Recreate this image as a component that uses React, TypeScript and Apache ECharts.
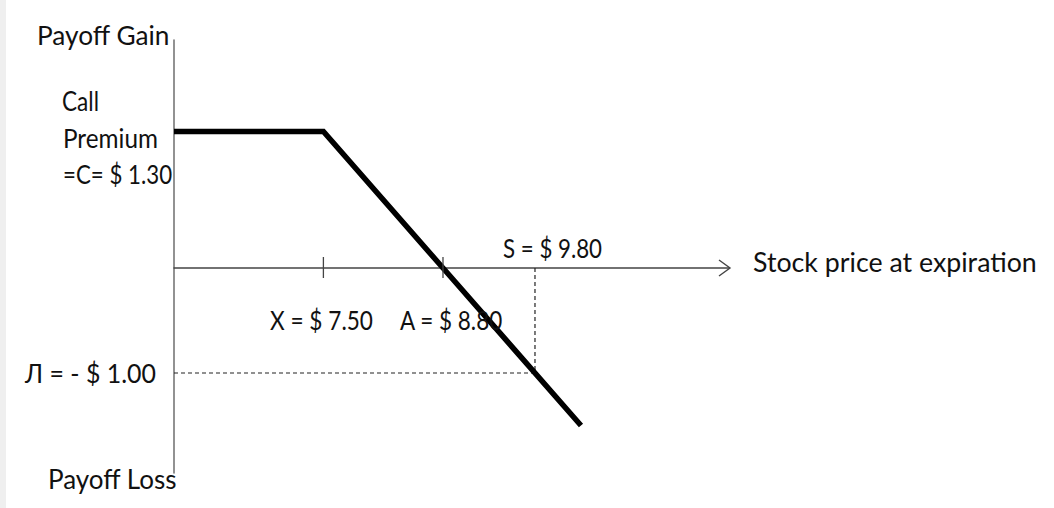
import { useEffect, useRef } from "react";
import * as echarts from "echarts";

// Short call payoff profile: price at expiration vs. payoff
const stockPrices = [5.876, 7.5, 8.8, 10.3];
const payoffs = [1.3, 1.3, 0, -1.5];

const strikePrice = 7.5;
const breakEvenPrice = 8.8;
const spotPrice = 9.8;
const callPremium = 1.3;
const spotPayoff = -1.0;

const xRange = [5.876, 11.909];
const yRange = [-1.952, 2.171];

const FONT = "Lato, 'Open Sans', sans-serif";
const FONT_SIZE = 27;

const money = (v: number) => v.toFixed(2);

// Horizontal squeeze so each label spans the given width
const measureCtx = document.createElement("canvas").getContext("2d");
const squeezeTo = (t: string, width: number) => {
  if (!measureCtx) return 1;
  measureCtx.font = `${FONT_SIZE}px ${FONT}`;
  const w = measureCtx.measureText(t).width;
  return w > 0 ? Math.min(1.05, width / w) : 1;
};

export default function App() {
  const ref = useRef<HTMLDivElement>(null);

  useEffect(() => {
    if (!ref.current) return;
    const chart = echarts.init(ref.current, undefined, { renderer: "svg" });

    chart.setOption({
      animation: false,
      backgroundColor: "#ffffff",
      grid: { left: 174, right: 325, top: 40, bottom: 35, containLabel: false },
      xAxis: {
        type: "value",
        min: xRange[0],
        max: xRange[1],
        axisLine: { show: true, onZero: true, lineStyle: { color: "#444", width: 1.5 } },
        axisTick: { show: false },
        axisLabel: { show: false },
        splitLine: { show: false },
      },
      yAxis: {
        type: "value",
        min: yRange[0],
        max: yRange[1],
        axisLine: { show: true, onZero: false, lineStyle: { color: "#777", width: 1.6 } },
        axisTick: { show: false },
        axisLabel: { show: false },
        splitLine: { show: false },
      },
      series: [
        {
          name: "guides",
          type: "line",
          symbol: "none",
          z: 1,
          silent: true,
          lineStyle: { color: "#222", width: 1.2, type: [4, 3] },
          data: [
            [xRange[0], spotPayoff],
            [spotPrice, spotPayoff],
            [spotPrice, 0],
          ],
        },
        {
          name: "payoff",
          type: "line",
          symbol: "none",
          z: 3,
          lineStyle: { color: "#000", width: 5.5, join: "miter", cap: "butt" },
          data: stockPrices.map((x, i) => [x, payoffs[i]]),
        },
      ],
    });

    const px = (x: number, y: number) =>
      chart.convertToPixel({ gridIndex: 0 }, [x, y]) as number[];

    const [, y0] = px(xRange[0], 0);
    const [xEnd] = px(xRange[1], 0);
    const [strikeX] = px(strikePrice, 0);
    const [beX] = px(breakEvenPrice, 0);
    const [spotX] = px(spotPrice, 0);
    const [, lossY] = px(xRange[0], spotPayoff);
    const [, premY] = px(xRange[0], callPremium);

    const text = (
      t: string,
      x: number,
      y: number,
      width: number,
      align: "left" | "right" = "left"
    ) => ({
      type: "text",
      x,
      y,
      scaleX: squeezeTo(t, width),
      z: 10,
      style: {
        text: t,
        fill: "#111",
        font: `${FONT_SIZE}px ${FONT}`,
        align,
        verticalAlign: "middle",
      },
    });

    chart.setOption({
      graphic: [
        { type: "rect", shape: { x: 0, y: 0, width: 6, height: 508 }, style: { fill: "#efefef" }, z: 0 },
        ...[strikeX, beX].map((tx) => ({
          type: "line",
          shape: { x1: tx, y1: y0 - 11, x2: tx, y2: y0 + 10 },
          style: { stroke: "#444", lineWidth: 1.3 },
          z: 5,
        })),
        {
          type: "polyline",
          shape: { points: [[xEnd - 10, y0 - 8], [xEnd + 1, y0], [xEnd - 10, y0 + 8]] },
          style: { stroke: "#444", lineWidth: 1.4, fill: null },
          z: 5,
        },
        text("Payoff Gain", 37, 35, 133),
        text("Call", 62, 100, 37),
        text("Premium", 63, 137, 95),
        text(`=C= $ ${money(callPremium)}`, 63, premY + 42, 109),
        text(`S = $ ${money(spotPrice)}`, spotX - 32, y0 - 20, 99),
        text("Stock price at expiration", xEnd + 24, y0 - 7, 284),
        text(`X = $ ${money(strikePrice)}`, 270, y0 + 51, 103),
        text(`A = $ ${money(breakEvenPrice)}`, 400, y0 + 51, 103),
        text(`Л = - $ ${money(Math.abs(spotPayoff))}`, 156, lossY, 131, "right"),
        text("Payoff Loss", 48, 479, 129),
      ],
    });

    return () => chart.dispose();
  }, []);

  return (
    <div
      ref={ref}
      style={{ position: "fixed", left: 0, top: 0, width: 1054, height: 508, background: "#fff" }}
    />
  );
}
